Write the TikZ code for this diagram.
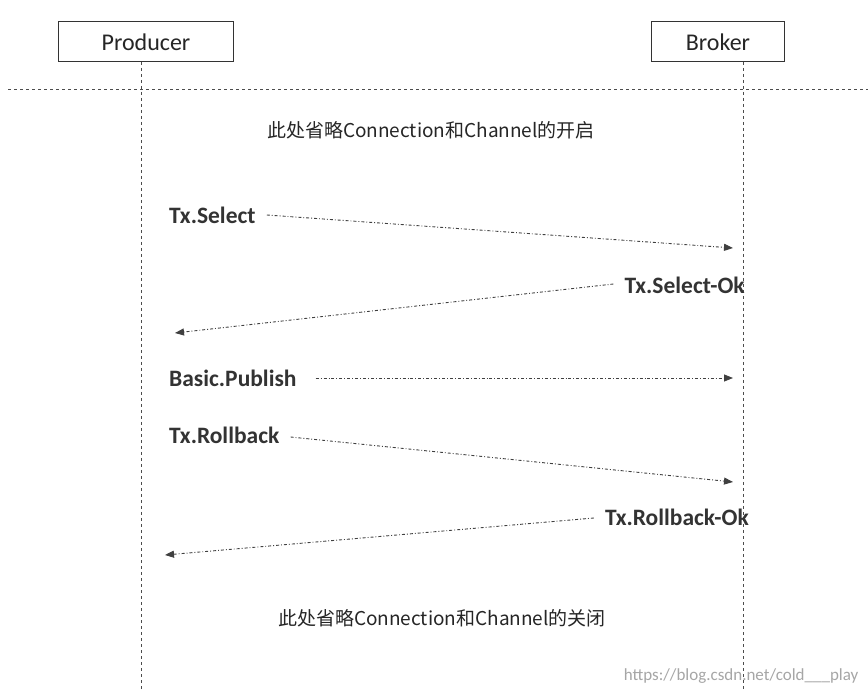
\documentclass[tikz,border=0pt]{standalone}
\usepackage{fontspec}
\setmainfont{Carlito}
\newfontfamily\cjk{Noto Sans CJK SC}
\usetikzlibrary{arrows.meta}
\begin{document}
\begin{tikzpicture}[x=1pt,y=-1pt,
  actor/.style={draw=black!80,line width=1pt,minimum width=175pt,minimum height=40pt,font=\fontsize{24}{28}\selectfont,text=black!85},
  life/.style={draw=black!70,dashed,line width=1pt},
  msg/.style={draw=black!75,line width=0.9pt,dash dot,-{Triangle[length=9pt,width=7pt]}},
  lbl/.style={font=\bfseries\fontsize{23.5}{27}\selectfont,text=black!80,inner sep=1pt},
  note/.style={font=\cjk\fontsize{19}{22}\selectfont,text=black!85}]
\useasboundingbox (0,0) rectangle (868,692);
\fill[white] (0,0) rectangle (868,692);
\node[actor] (p) at (146,42) {Producer};
\node[actor,minimum width=133pt] (b) at (718,42) {Broker};
\coordinate (pe) at (141,692);
\coordinate (be) at (743,692);
\draw[life] (141,62) -- (pe);
\draw[life] (743,62) -- (be);
\coordinate (hl) at (8,90); \coordinate (hr) at (868,90);
\draw[life] (hl) -- (hr);
\node[note] (n1) at (431,130) {此处省略Connection和Channel的开启};
\node[note] (n2) at (442,618) {此处省略Connection和Channel的关闭};
\node[lbl,anchor=west] (l1) at (168,215) {Tx.Select};
\coordinate (e1) at (733,248);
\draw[msg] (l1.east)++(10,0) -- (e1);
\node[lbl,anchor=east] (l2) at (746,285) {Tx.Select-Ok};
\coordinate (e2) at (175,333);
\draw[msg] (l2.west)++(-10,-1) -- (e2);
\node[lbl,anchor=west] (l3) at (168,378) {Basic.Publish};
\coordinate (e3) at (733,378);
\draw[msg] (l3.east)++(18,0) -- (e3);
\node[lbl,anchor=west] (l4) at (168,435) {Tx.Rollback};
\coordinate (e4) at (733,482);
\draw[msg] (l4.east)++(10,2) -- (e4);
\node[lbl,anchor=east] (l5) at (750,517) {Tx.Rollback-Ok};
\coordinate (e5) at (165,555);
\draw[msg] (l5.west)++(-10,1) -- (e5);
\node[font=\fontsize{17}{20}\selectfont,text=black!35,anchor=east] (wm) at (862,676) {https://blog.csdn.net/cold\_\_\_play};
\end{tikzpicture}
\end{document}
